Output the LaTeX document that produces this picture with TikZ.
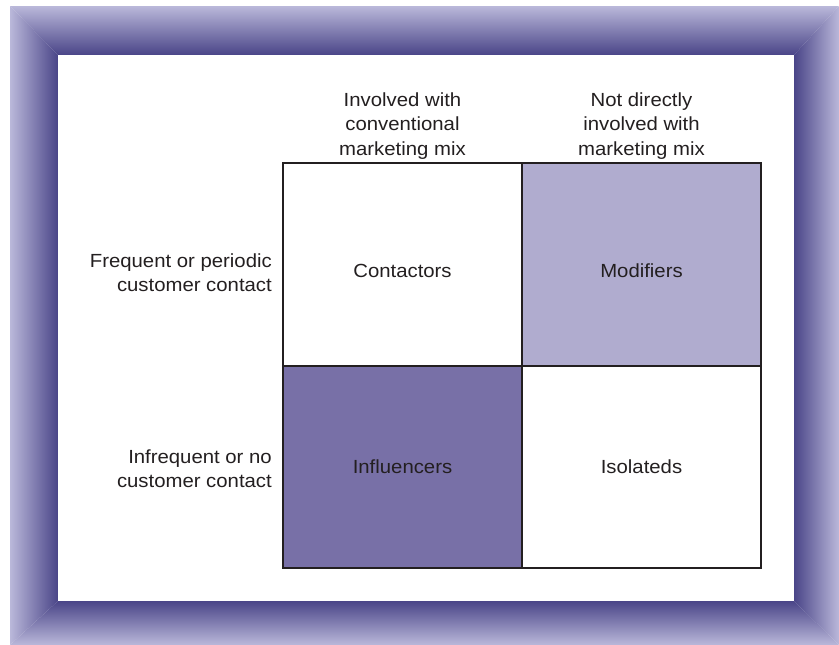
\documentclass[tikz,border=0pt]{standalone}
\usepackage{fontspec}
\setmainfont{Liberation Sans}[FakeStretch=1.07]
\definecolor{frameout}{HTML}{BAB8DA}
\definecolor{framein}{HTML}{4A4588}
\definecolor{lightfill}{HTML}{B0ACCF}
\definecolor{darkfill}{HTML}{7870A7}
\definecolor{gridline}{HTML}{231F20}
\definecolor{txt}{HTML}{231F20}
\tikzset{
  lbl/.style={inner sep=0pt, text=txt, font=\fontsize{19}{24.2}\selectfont},
  cell/.style={draw=gridline, line width=2.2pt, minimum width=239pt, minimum height=202.5pt,
    inner sep=0pt},
  hdr/.style={lbl, align=center},
  rowlab/.style={lbl, align=right, anchor=east}
}
\begin{document}
\begin{tikzpicture}[x=1pt,y=-1pt]
\fill[white] (0,0) rectangle (839,645);
\useasboundingbox (0,0) rectangle (839,645);
% bevelled frame
\shade[top color=frameout, bottom color=framein] (10,6) -- (839,6) -- (794,55) -- (58,55) -- cycle;
\shade[top color=framein, bottom color=frameout] (58,601) -- (794,601) -- (839,645) -- (10,645) -- cycle;
\shade[left color=frameout, right color=framein] (10,6) -- (58,55) -- (58,601) -- (10,645) -- cycle;
\shade[left color=framein, right color=frameout] (794,55) -- (839,6) -- (839,645) -- (794,601) -- cycle;
\fill[white] (58,55) rectangle (794,601);
% grid
\node[cell, fill=white, label={[lbl, yshift=-6pt]center:Contactors}] (contactors) at (402.5,264.5) {};
\node[cell, fill=lightfill, label={[lbl, yshift=-6pt]center:Modifiers}] (modifiers) at (641.5,264.5) {};
\node[cell, fill=darkfill, label={[lbl]center:Influencers}] (influencers) at (402.5,467) {};
\node[cell, fill=white, label={[lbl]center:Isolateds}] (isolateds) at (641.5,467) {};
% headers
\node[hdr] (h1) at (402.5,126) {Involved with\\conventional\\marketing mix};
\node[hdr] (h2) at (641.5,126) {Not directly\\involved with\\marketing mix};
% row labels
\node[rowlab] (r1) at (272,273) {Frequent or periodic\\customer contact};
\node[rowlab] (r2) at (272,469) {Infrequent or no\\customer contact};
\end{tikzpicture}
\end{document}
